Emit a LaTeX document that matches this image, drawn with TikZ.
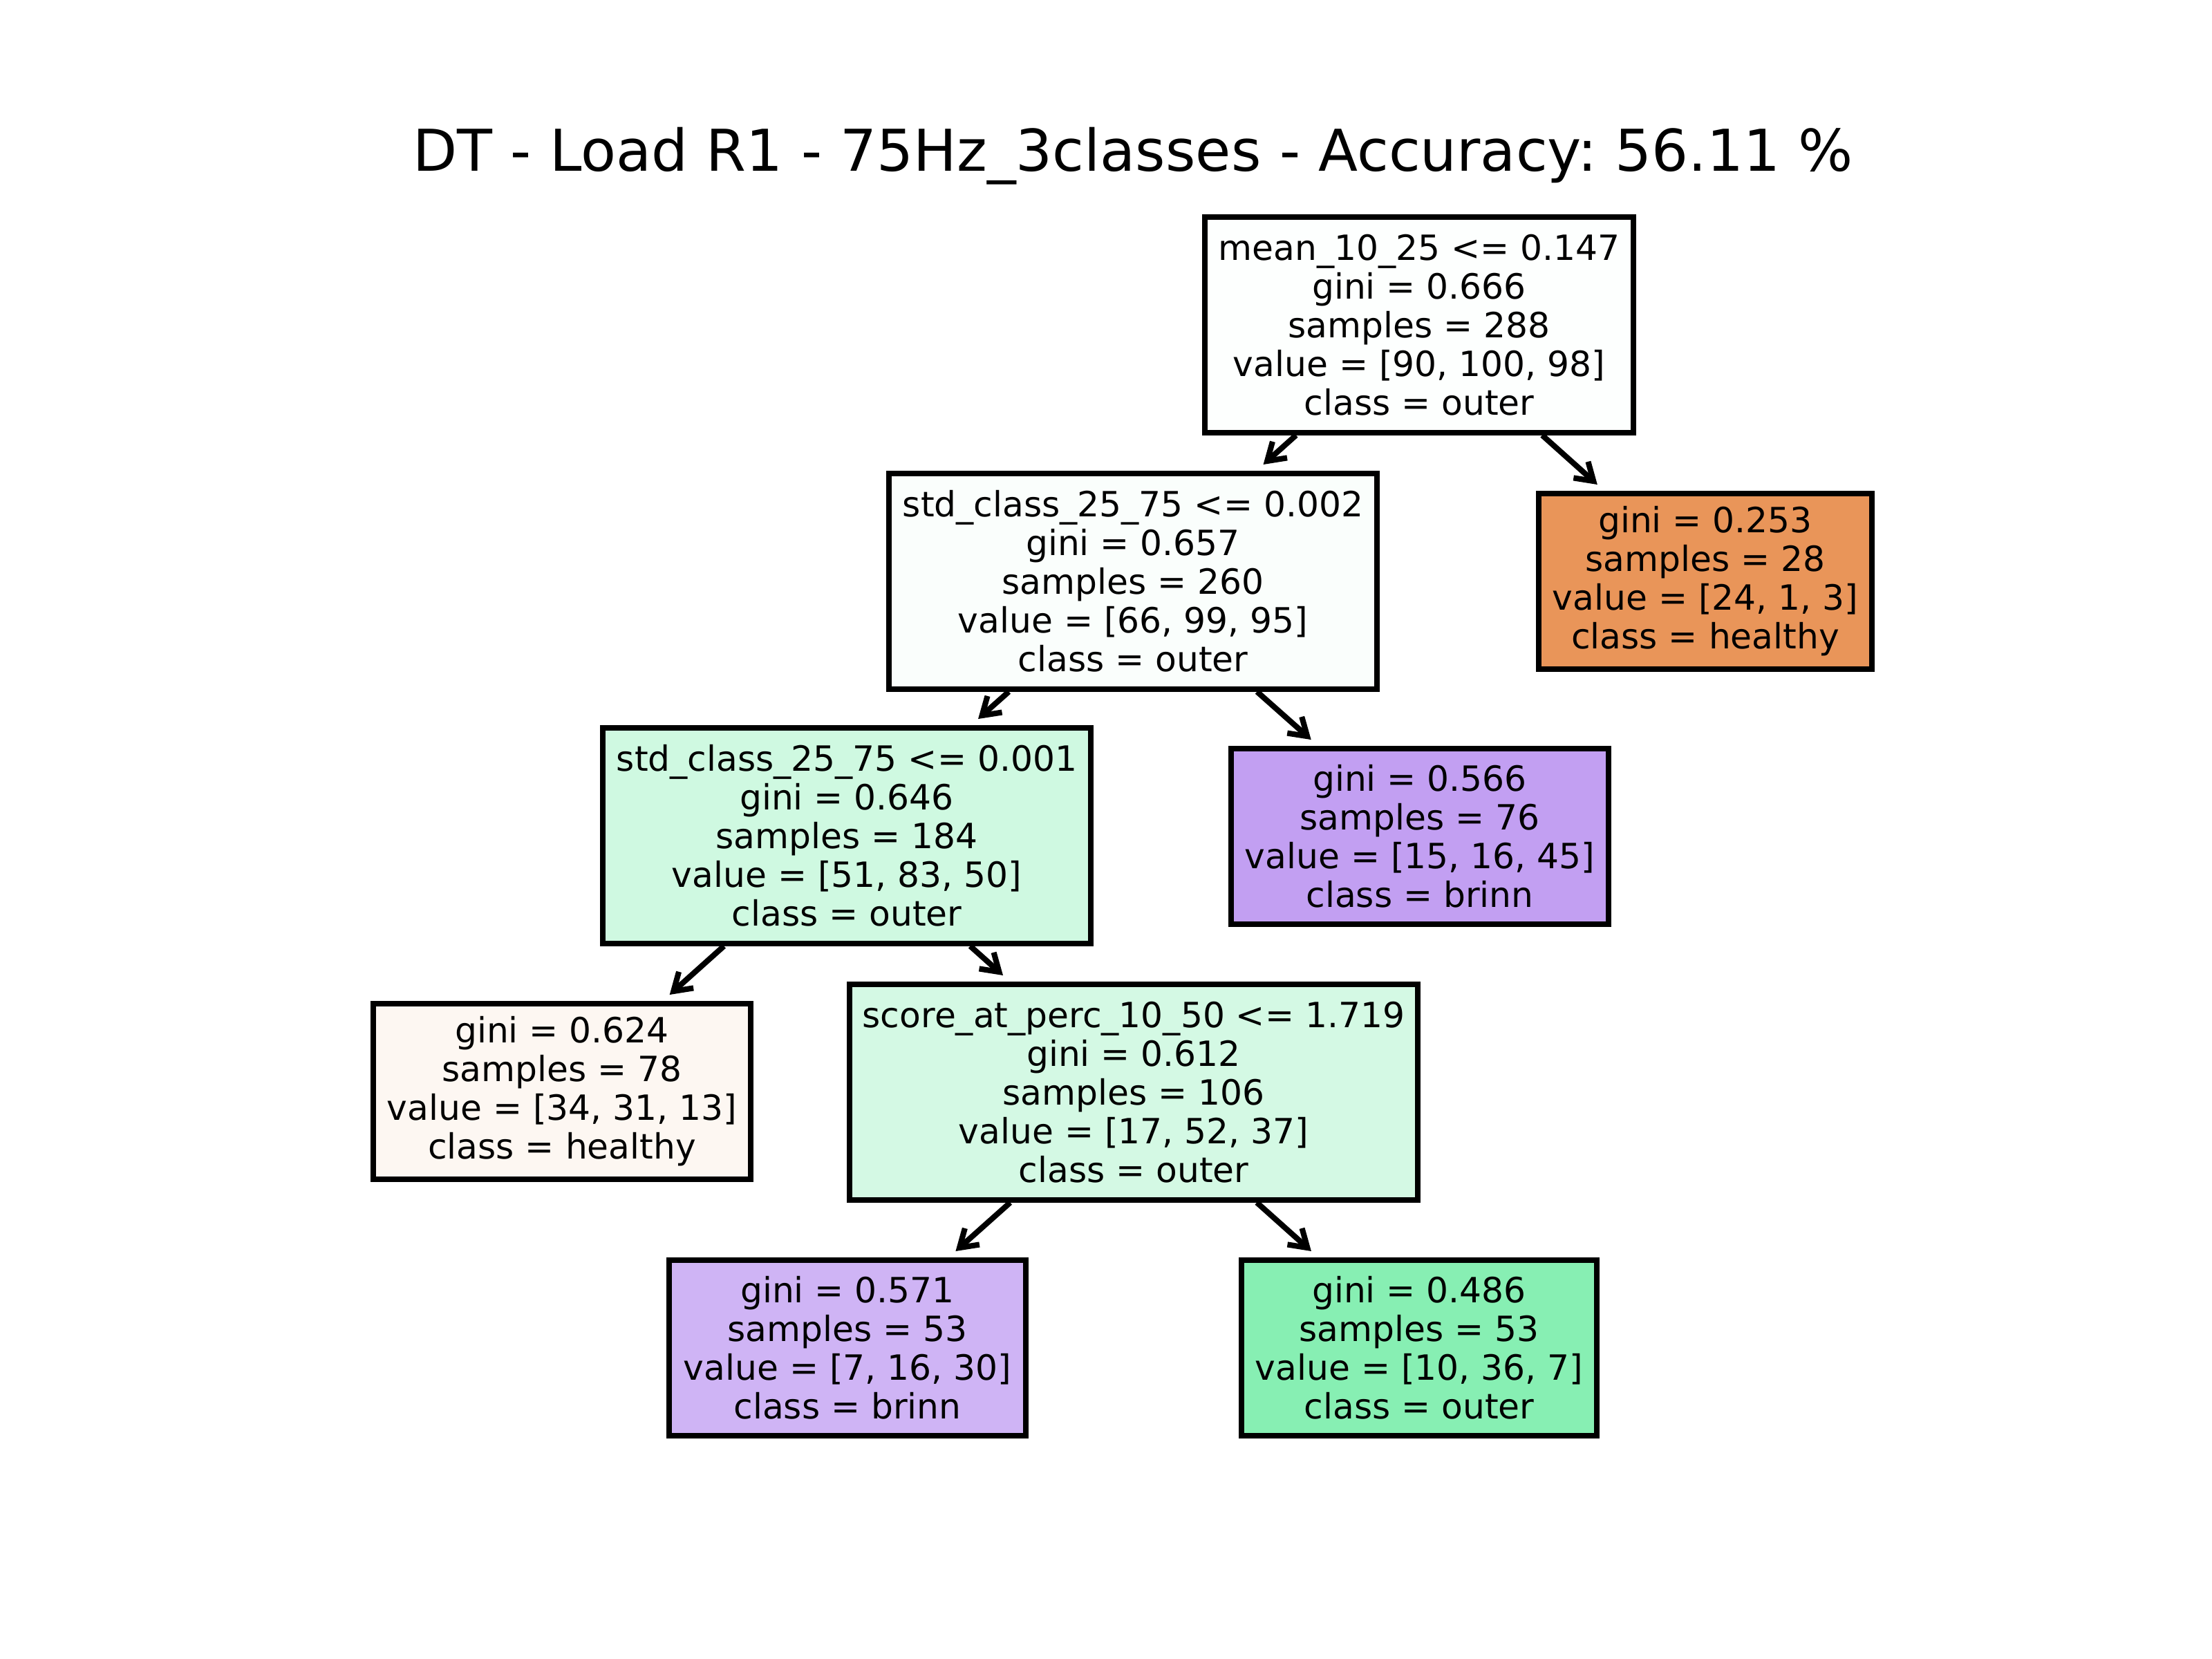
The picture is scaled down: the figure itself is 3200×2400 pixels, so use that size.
\documentclass[tikz,border=0pt]{standalone}
\usepackage{fontspec}
\setmainfont{DejaVu Sans}
\usetikzlibrary{arrows.meta}
\frenchspacing
\definecolor{cRoot}{RGB}{253,255,254}
\definecolor{cNtwo}{RGB}{250,254,252}
\definecolor{cHealthyA}{RGB}{233,149,89}
\definecolor{cNthree}{RGB}{207,249,225}
\definecolor{cBrinnA}{RGB}{194,159,242}
\definecolor{cHealthyB}{RGB}{253,247,242}
\definecolor{cNfour}{RGB}{212,249,228}
\definecolor{cBrinnB}{RGB}{207,180,245}
\definecolor{cOuterB}{RGB}{135,239,179}
\begin{document}
\frenchspacing
\begin{tikzpicture}[x=0.01cm,y=-0.01cm,
  tnode/.style={draw=black, line width=2.3pt, rectangle, align=center, inner sep=0pt,
    font=\fontsize{14.3pt}{15.94pt}\selectfont},
  five/.style={minimum height=3.11cm},
  four/.style={minimum height=2.53cm},
  arr/.style={-{Straight Barb[length=7pt,width=9pt]}, line width=2.3pt, shorten >=4pt}]
\useasboundingbox (0,0) rectangle (3200,2400);
\fill[white] (0,0) rectangle (3200,2400);
\node[font=\fontsize{23.7pt}{28pt}\selectfont, anchor=base] (title) at (1639,248) {DT - Load R1 - 75Hz\_3classes - Accuracy: 56.11 \%};

\node[tnode, five, fill=cRoot, minimum width=6.2cm] (root) at (2053,470)
  {mean\_10\_25 <= 0.147\\gini = 0.666\\samples = 288\\value = [90, 100, 98]\\class = outer};
\node[tnode, four, fill=cHealthyA, minimum width=4.82cm] (hR) at (2467,841)
  {gini = 0.253\\samples = 28\\value = [24, 1, 3]\\class = healthy};
\node[tnode, five, fill=cNtwo, minimum width=7.06cm] (n2) at (1639,841)
  {std\_class\_25\_75 <= 0.002\\gini = 0.657\\samples = 260\\value = [66, 99, 95]\\class = outer};
\node[tnode, four, fill=cBrinnA, minimum width=5.45cm] (b76) at (2054,1210)
  {gini = 0.566\\samples = 76\\value = [15, 16, 45]\\class = brinn};
\node[tnode, five, fill=cNthree, minimum width=7.05cm] (n3) at (1225,1209)
  {std\_class\_25\_75 <= 0.001\\gini = 0.646\\samples = 184\\value = [51, 83, 50]\\class = outer};
\node[tnode, four, fill=cHealthyB, minimum width=5.45cm] (h78) at (813,1579)
  {gini = 0.624\\samples = 78\\value = [34, 31, 13]\\class = healthy};
\node[tnode, five, fill=cNfour, minimum width=8.22cm] (n4) at (1640,1580)
  {score\_at\_perc\_10\_50 <= 1.719\\gini = 0.612\\samples = 106\\value = [17, 52, 37]\\class = outer};
\node[tnode, four, fill=cBrinnB, minimum width=5.15cm] (b53) at (1226,1950)
  {gini = 0.571\\samples = 53\\value = [7, 16, 30]\\class = brinn};
\node[tnode, four, fill=cOuterB, minimum width=5.14cm] (o53) at (2053,1950)
  {gini = 0.486\\samples = 53\\value = [10, 36, 7]\\class = outer};

\draw[arr] (root) -- (n2);
\draw[arr] (root) -- (hR);
\draw[arr] (n2) -- (n3);
\draw[arr] (n2) -- (b76);
\draw[arr] (n3) -- (h78);
\draw[arr] (n3) -- (n4);
\draw[arr] (n4) -- (b53);
\draw[arr] (n4) -- (o53);
\end{tikzpicture}
\end{document}
